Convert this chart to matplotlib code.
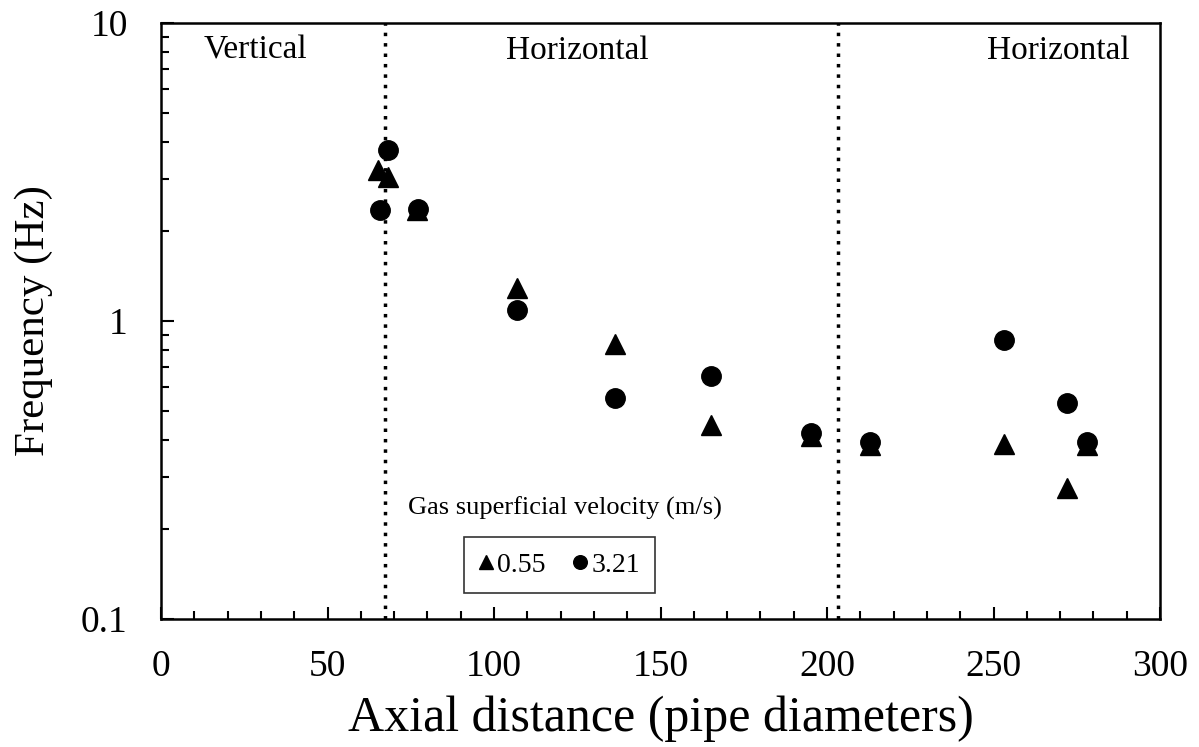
import matplotlib
matplotlib.use('Agg')
import matplotlib.pyplot as plt
from matplotlib.ticker import FixedLocator, FuncFormatter, LogLocator, NullFormatter

plt.rcParams['font.family'] = ['Liberation Serif', 'DejaVu Serif']

# Gas superficial velocity 0.55 m/s (triangles)
x_055 = [65.2, 68.2, 77.0, 107.0, 136.3, 165.2, 195.2, 212.9, 253.2, 272.0, 278.0]
f_055 = [3.21, 3.04, 2.36, 1.29, 0.837, 0.448, 0.41, 0.385, 0.386, 0.275, 0.385]

# Gas superficial velocity 3.21 m/s (circles)
x_321 = [65.8, 68.2, 77.2, 107.0, 136.3, 165.2, 195.2, 212.9, 253.2, 272.0, 278.0]
f_321 = [2.36, 3.75, 2.38, 1.09, 0.552, 0.653, 0.421, 0.393, 0.863, 0.531, 0.393]

section_bounds = [67.3, 203.3]
section_names = ['Vertical', 'Horizontal', 'Horizontal']

fig = plt.figure(figsize=(11.99, 7.47), dpi=100)
ax = fig.add_axes([0.1343, 0.1714, 0.8332, 0.7976])

ax.plot(x_055, f_055, linestyle='none', marker='^', color='black',
        markersize=14, label='0.55')
ax.plot(x_321, f_321, linestyle='none', marker='o', color='black',
        markersize=14, label='3.21')

for xb in section_bounds:
    ax.axvline(xb, color='black', linestyle=(0, (1, 2)), linewidth=2.5)

ax.set_yscale('log')
ax.set_xlim(0, 300)
ax.set_ylim(0.1, 10)

ax.xaxis.set_major_locator(FixedLocator([0, 50, 100, 150, 200, 250, 300]))
ax.xaxis.set_minor_locator(FixedLocator(range(0, 301, 10)))
ax.yaxis.set_major_locator(FixedLocator([0.1, 1, 10]))
ax.yaxis.set_major_formatter(FuncFormatter(lambda v, p: f'{v:g}'))
ax.yaxis.set_minor_locator(LogLocator(base=10, subs=range(2, 10)))
ax.yaxis.set_minor_formatter(NullFormatter())

ax.tick_params(which='both', direction='in', width=1.5, labelsize=27)
ax.tick_params(axis='x', pad=22)
ax.tick_params(axis='y', pad=24)
ax.tick_params(which='major', length=9)
ax.tick_params(which='minor', length=6)
for s in ax.spines.values():
    s.set_linewidth(1.8)

ax.set_xlabel('Axial distance (pipe diameters)', fontsize=36, labelpad=8)
ax.set_ylabel('Frequency (Hz)', fontsize=31, labelpad=20)

ax.text(28.3, 8.1, section_names[0], fontsize=24, ha='center', va='center')
ax.text(125, 8.1, section_names[1], fontsize=24, ha='center', va='center')
ax.text(269.5, 8.1, section_names[2], fontsize=24, ha='center', va='center')

ax.text(121.3, 0.236, 'Gas superficial velocity (m/s)', fontsize=19,
        ha='center', va='center')
leg = ax.legend(loc='center', bbox_to_anchor=(0.399, 0.0906), ncol=2,
                fontsize=20, frameon=True, fancybox=False, edgecolor='black',
                handlelength=0.5, handletextpad=0.15, columnspacing=1.0,
                markerscale=0.7, borderpad=0.55)
leg.get_frame().set_linewidth(1.2)

fig.savefig('out.png', dpi=100)
